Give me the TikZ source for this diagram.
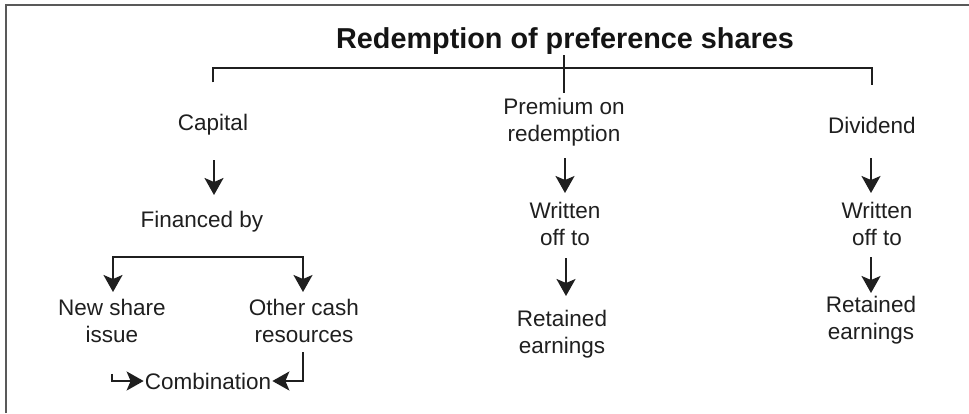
\documentclass[tikz,border=0pt]{standalone}
\usepackage{fontspec}
\setmainfont{Liberation Sans}
\usetikzlibrary{arrows.meta}
\begin{document}
\begin{tikzpicture}[x=1pt,y=-1pt,
  lbl/.style={inner sep=0pt,align=center,font=\fontsize{22.5}{27}\selectfont,text=black!88},
  ttl/.style={inner sep=0pt,font=\bfseries\fontsize{28.8}{32}\selectfont,text=black!92},
  wire/.style={line width=2pt,draw=black!88},
  arr/.style={wire,-{Stealth[length=17pt,width=19pt,inset=4pt]}},
  arr2/.style={wire,{Stealth[length=17pt,width=19pt,inset=4pt]}-{Stealth[length=17pt,width=19pt,inset=4pt]}},
  frm/.style={line width=2.5pt,draw=black!65}]
\useasboundingbox (0,0) rectangle (969,413);
% open frame on the left and top
\draw[frm] (6,413) -- (6,5) -- (969,5);

% title and first level
\node[ttl] (title) at (565,41) {Redemption of preference shares};
\node[lbl] (capital) at (213,125) {Capital};
\node[lbl] (premium) at (564,122) {Premium on\\redemption};
\node[lbl] (dividend) at (872,125) {Dividend};
\coordinate (bar) at (564,68);

% capital branch
\node[lbl] (financed) at (202,222) {Financed by};
\coordinate (fbar) at (208,257);
\node[lbl] (newshare) at (112,321) {New share\\issue};
\node[lbl] (othercash) at (304,321) {Other cash\\resources};
\node[lbl] (combination) at (208,381) {Combination};

% premium branch
\node[lbl] (written1) at (565,224) {Written\\off to};
\node[lbl] (retained1) at (562,334) {Retained\\earnings};

% dividend branch
\node[lbl] (written2) at (877,224) {Written\\off to};
\node[lbl] (retained2) at (871,320) {Retained\\earnings};

% top bracket
\draw[wire,shorten <=14pt,shorten >=29pt] ([xshift=-1pt]title.center) -- ([xshift=-1pt]title.center |- premium.center);
\draw[wire,shorten <=32pt,shorten >=32pt] (capital) |- (bar) -| (dividend);

% capital flow
\draw[arr,shorten <=35pt,shorten >=27pt] ([xshift=1pt]capital.center) -- ([xshift=1pt]capital.center |- financed.center);
\draw[arr2,shorten <=29pt,shorten >=29pt] ([xshift=1pt]newshare.center) |- (fbar) -| ([xshift=-1pt]othercash.center);
\draw[arr,shorten <=31pt,shorten >=1pt] (newshare) |- (combination.west);
\draw[arr,shorten <=31pt,shorten >=1pt] ([xshift=-1pt]othercash.center) |- (combination.east);

% premium flow
\draw[arr,shorten <=36pt,shorten >=31pt] ([xshift=1pt]premium.center) -- ([xshift=1pt]premium.center |- written1.center);
\draw[arr,shorten <=34pt,shorten >=38pt] ([xshift=2pt]premium.center |- written1.center) -- ([xshift=2pt]premium.center |- retained1.center);

% dividend flow
\draw[arr,shorten <=33pt,shorten >=31pt] ([xshift=-1pt]dividend.center) -- ([xshift=-1pt]dividend.center |- written2.center);
\draw[arr,shorten <=33pt,shorten >=27pt] ([xshift=-1pt]dividend.center |- written2.center) -- ([xshift=-1pt]dividend.center |- retained2.center);
\end{tikzpicture}
\end{document}
